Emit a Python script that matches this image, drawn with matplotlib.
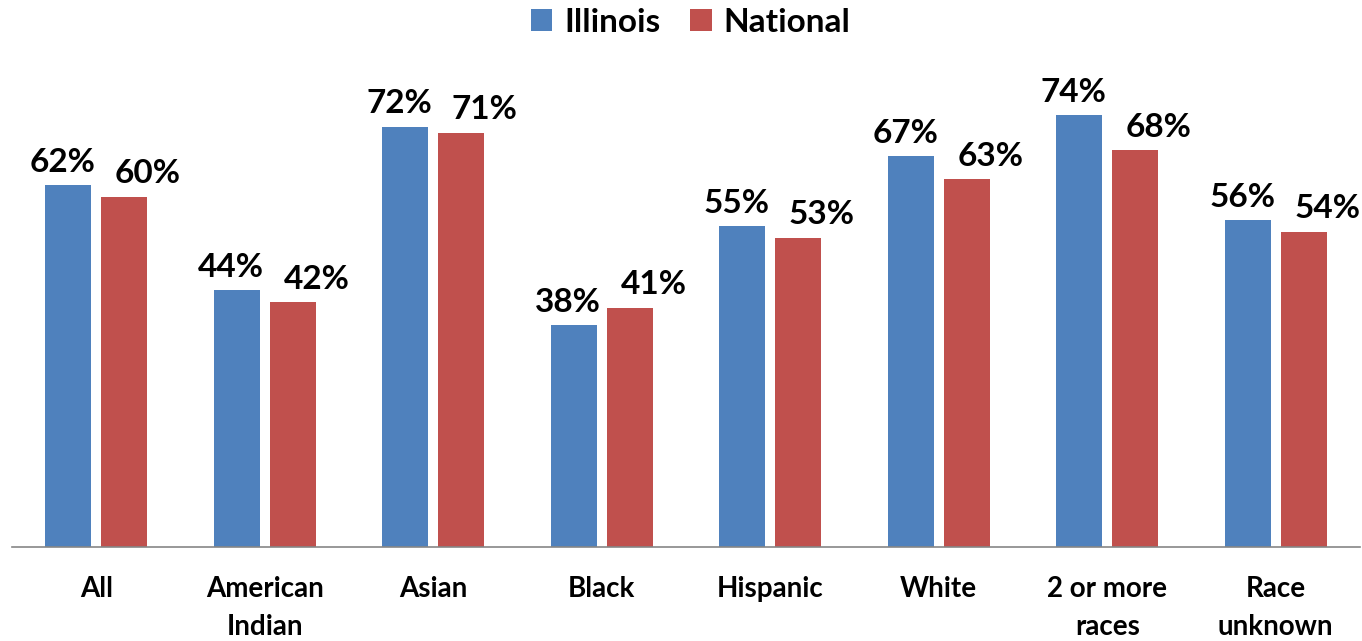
import matplotlib.pyplot as plt
import numpy as np

plt.rcParams['font.family'] = ['Lato', 'DejaVu Sans']

categories = ["All", "American\nIndian", "Asian", "Black", "Hispanic", "White", "2 or more\nraces", "Race\nunknown"]
illinois = [62, 44, 72, 38, 55, 67, 74, 56]
national = [60, 42, 71, 41, 53, 63, 68, 54]

blue = "#4F81BD"
red = "#C0504D"

fig = plt.figure(figsize=(13.62, 6.41), dpi=100)
ax = fig.add_axes([0.0088, 0.1466, 0.9897, 0.7286])

x = np.arange(len(categories))
w = 0.273
off = 0.1665
b1 = ax.bar(x - off, illinois, w, color=blue, label="Illinois")
b2 = ax.bar(x + off, national, w, color=red, label="National")

# labels nudged apart like the original (points)
for bars, dx in ((b1, -4), (b2, 17)):
    for b in bars:
        ax.annotate(f"{b.get_height():.0f}%", (b.get_x() + b.get_width() / 2, b.get_height()),
                    xytext=(dx, 6), textcoords="offset points",
                    ha="center", va="bottom", fontsize=24, fontweight="bold")

ax.set_xlim(-0.5, len(categories) - 0.5)
ax.set_ylim(0, 80)
ax.set_xticks(x)
ax.set_xticklabels(categories, fontsize=20, fontweight="bold", linespacing=1.55)
ax.tick_params(axis="x", length=0, pad=21)
ax.set_yticks([])
for s in ["top", "right", "left"]:
    ax.spines[s].set_visible(False)
ax.spines["bottom"].set_color("#868686")
ax.spines["bottom"].set_linewidth(1.2)

fig.legend(handles=[b1, b2], loc="upper center", bbox_to_anchor=(0.507, 1.035), ncol=2,
           frameon=False, prop={"size": 24, "weight": "bold"}, handlelength=0.65, handleheight=0.65,
           handletextpad=0.35, columnspacing=0.9)

fig.savefig("out.png", dpi=100)
